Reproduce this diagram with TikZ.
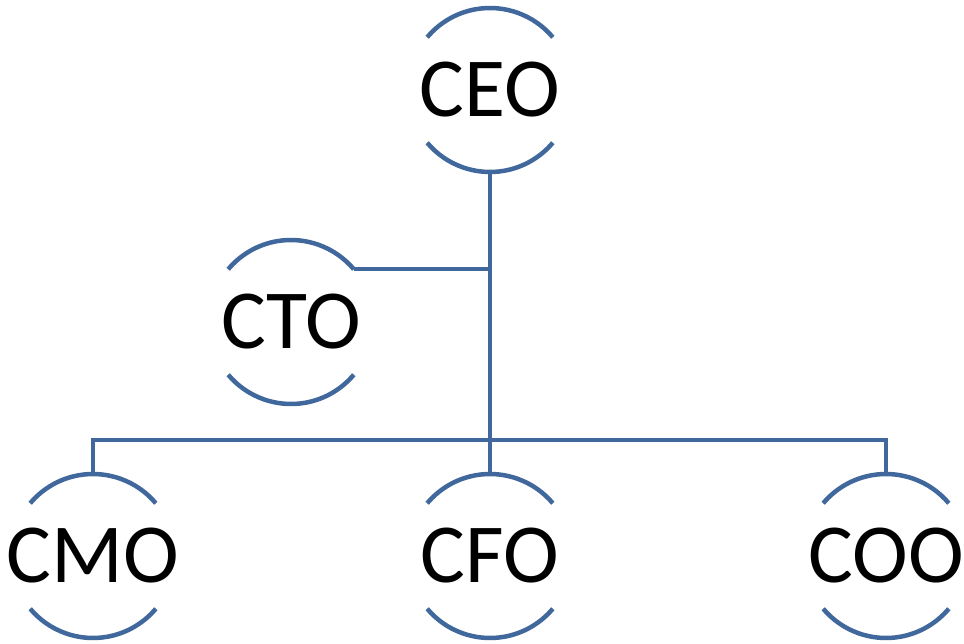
\documentclass[tikz,border=0pt]{standalone}
\usepackage{fontspec}
\setmainfont{Carlito}
\definecolor{orgblue}{RGB}{64,104,156}
\begin{document}
\begin{tikzpicture}[x=1pt,y=-1pt,
  role/.style={circle,draw=none,minimum size=164pt,inner sep=0pt,outer sep=0pt,
    label={[font=\fontsize{84}{96}\selectfont,inner sep=0pt]center:#1}},
  link/.style={draw=orgblue,line width=4.2pt},
  rim/.style={draw=orgblue,line width=4.5pt}]
\useasboundingbox (0,0) rectangle (964,644);
\node[role=CEO] (ceo) at (490,90) {};
\node[role=CTO] (cto) at (291,322) {};
\node[role=CMO] (cmo) at (93,556) {};
\node[role=CFO] (cfo) at (490,556) {};
\node[role=COO] (coo) at (886,556) {};
\foreach \n in {ceo,cto,cmo,cfo,coo}{
  \draw[rim] (\n.40) arc[start angle=40,end angle=140,radius=82pt];
  \draw[rim] (\n.220) arc[start angle=220,end angle=320,radius=82pt];
}
\coordinate (bus) at (490,440);
\draw[link] (ceo.south) -- (cfo.north);
\draw[link] (cto.40) -- (cto.40 -| ceo.south);
\draw[link] (cmo.north) |- (bus) -| (coo.north);
\end{tikzpicture}
\end{document}
